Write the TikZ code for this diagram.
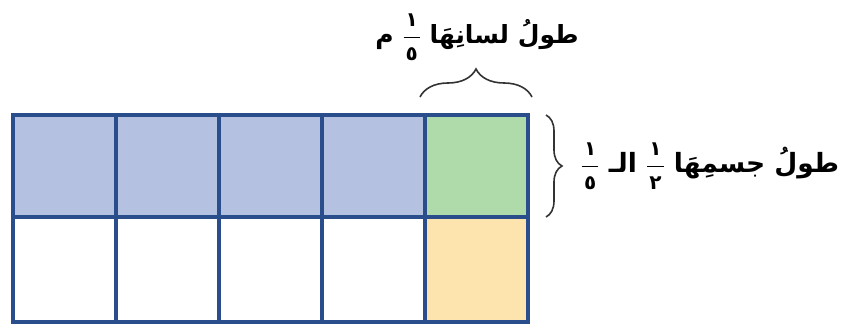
\documentclass[tikz,border=0pt]{standalone}
\usepackage{fontspec}
\usetikzlibrary{decorations.pathreplacing}
\TeXXeTstate=1
\newfontfamily\arabicfont[Script=Arabic]{DejaVu Sans}
\newcommand{\fracdigit}[1]{\hbox{\kern2pt\fontsize{20}{20}\selectfont\arabicfont\bfseries #1\kern2pt}}
\newcommand{\afrac}[2]{\ensuremath{\displaystyle\frac{\fracdigit{#1}}{\fracdigit{#2}}}}
\definecolor{gridline}{HTML}{2A4E8C}
\definecolor{cellblue}{HTML}{B5C1E1}
\definecolor{cellgreen}{HTML}{AEDBA9}
\definecolor{cellyellow}{HTML}{FDE3AE}
\definecolor{bracecol}{HTML}{333333}
\tikzset{
  gridstyle/.style={draw=gridline, line width=3.4pt},
  arlabel/.style={font=\fontsize{25}{28}\selectfont\arabicfont\bfseries, text=black, inner sep=1pt},
  sidelabelstyle/.style={arlabel, font=\fontsize{26.5}{29}\selectfont\arabicfont\bfseries},
  bracestyle/.style={draw=bracecol, line width=1.6pt, decorate}
}
\begin{document}
\begin{tikzpicture}[x=1pt,y=-1pt]
\useasboundingbox (0,0) rectangle (850,334);
% fills
\fill[cellblue] (13,115) rectangle (425,217);
\fill[cellgreen] (425,115) rectangle (528,217);
\fill[cellyellow] (425,217) rectangle (528,322);
% grid lines
\foreach \x in {13,116,219,322,425,528} \draw[gridstyle] (\x,115) -- (\x,322);
\foreach \y in {115,217,322} \draw[gridstyle, line cap=rect] (13,\y) -- (528,\y);
% braces
\coordinate (tl) at (420,97);
\coordinate (tr) at (532,97);
\draw[bracestyle, decoration={brace, amplitude=28pt}] (tl) -- (tr);
\coordinate (rt) at (546,115);
\coordinate (rb) at (546,217);
\draw[bracestyle, decoration={brace, amplitude=16pt}] (rt) -- (rb);
% labels
\node[arlabel] (toplabel) at (477,37) {\beginR طولُ لسانِهَا \afrac{١}{٥} م\endR};
\node[sidelabelstyle] (sidelabel) at (710,166) {\beginR طولُ جسمِهَا \afrac{١}{٢} الـ \afrac{١}{٥}\endR};
\end{tikzpicture}
\end{document}
